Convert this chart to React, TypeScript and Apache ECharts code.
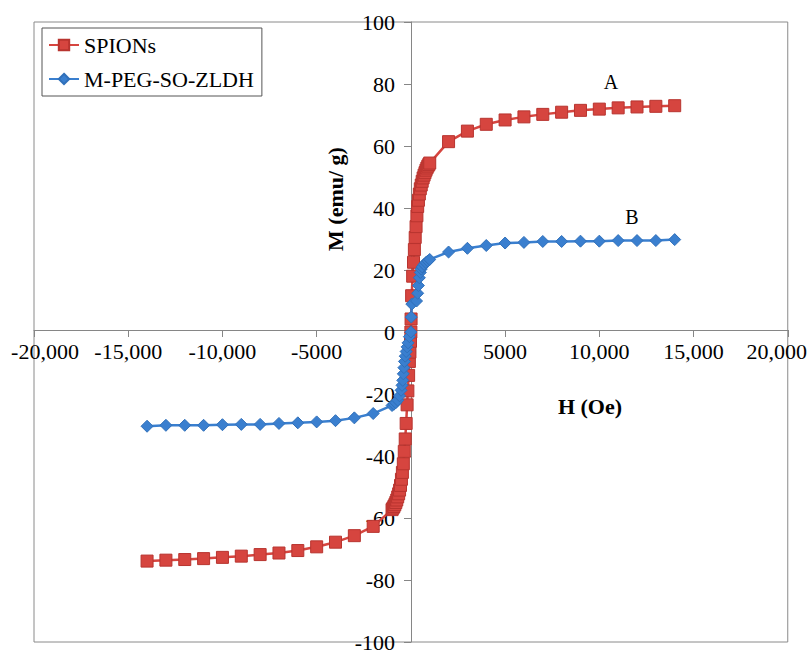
import React, { useEffect, useRef } from "react";
import * as echarts from "echarts";

const xTicks = [-20000, -15000, -10000, -5000, 0, 5000, 10000, 15000, 20000];
const yTicks = [-100, -80, -60, -40, -20, 0, 20, 40, 60, 80, 100];

const spionsH = [
  -14000, -13000, -12000, -11000, -10000, -9000, -8000, -7000, -6000, -5000, -4000, -3000, -2000,
  -1000, -950, -900, -850, -800, -750, -700, -650, -600, -550, -500, -450, -400, -350, -300, -250,
  -200, -160, -120, -80, -50, -20, 0,
  10, 40, 95, 140, 186, 230, 276, 320, 360, 400, 450, 500, 550, 600, 650, 700, 750, 800, 850, 900,
  950, 1000,
  2000, 3000, 4000, 5000, 6000, 7000, 8000, 9000, 10000, 11000, 12000, 13000, 14000,
];
const spionsM = [
  -73.9, -73.6, -73.4, -73.1, -72.7, -72.3, -71.8, -71.3, -70.5, -69.3, -67.8, -65.7, -62.7,
  -57.3, -56.8, -56.3, -55.7, -55.0, -54.2, -53.2, -52.2, -51.0, -49.5, -47.5, -45.3, -42.5, -38.5,
  -34.5, -29.5, -23.5, -19, -14, -9.5, -6.5, -3, 0,
  4.2, 11.7, 18, 22.5, 26.6, 30.5, 34, 37.5, 40.5, 42.5, 44.5, 46.2, 47.4, 48.6, 49.7, 50.6, 51.4,
  52.2, 52.9, 53.5, 54.0, 54.5,
  61.4, 64.8, 67.0, 68.4, 69.4, 70.2, 70.9, 71.5, 71.9, 72.3, 72.6, 72.8, 73.0,
];

const zldhH = [
  -14000, -13000, -12000, -11000, -10000, -9000, -8000, -7000, -6000, -5000, -4000, -3000, -2000,
  -1000, -900, -800, -700, -600, -520, -470, -430, -400, -370, -340, -300, -250, -200, -150, -80, 0,
  20, 50, 300, 360, 400, 450, 500, 550, 600, 700, 800, 900, 1000,
  2000, 3000, 4000, 5000, 6000, 7000, 8000, 9000, 10000, 11000, 12000, 13000, 14000,
];
const zldhM = [
  -30.4, -30.1, -30.1, -30.1, -29.9, -29.8, -29.8, -29.5, -29.3, -29.0, -28.6, -27.7, -26.3,
  -23.7, -23.3, -22.8, -22.0, -20.6, -18.8, -17.2, -15.6, -13.5, -11.5, -9.5, -7.8, -6.3, -4.8,
  -3.5, -1.5, 0,
  4.8, 9, 10, 12.5, 15, 17.5, 19.2, 20.3, 21.0, 21.8, 22.4, 22.9, 23.4,
  25.8, 27.0, 27.9, 28.7, 28.9, 29.2, 29.2, 29.3, 29.3, 29.5, 29.5, 29.5, 29.8,
];

const seriesNames = ["SPIONs", "M-PEG-SO-ZLDH"];
const axisTitles = { x: "H (Oe)", y: "M (emu/ g)" };
const curveLabels = ["A", "B"];

const FONT = "'Liberation Serif', 'Times New Roman', serif";

function fmtX(v: number): string {
  if (v === 0) return "0";
  const a = Math.abs(v);
  const s = a >= 10000 ? a.toLocaleString("en-US") : String(a);
  return (v < 0 ? "-" : "") + s;
}

const W = 810;
const H = 653;
const GRID = { left: 34, right: 22, top: 22, bottom: 7 };

export default function App() {
  const ref = useRef<HTMLDivElement>(null);
  useEffect(() => {
    if (!ref.current) return;
    const chart = echarts.init(ref.current, undefined, { renderer: "svg" });
    const red = "#D6453F";
    const blue = "#3A7FCF";
    const xMin = xTicks[0];
    const xMax = xTicks[xTicks.length - 1];
    const yMin = yTicks[0];
    const yMax = yTicks[yTicks.length - 1];
    const gw = W - GRID.left - GRID.right;
    const gh = H - GRID.top - GRID.bottom;
    const xAxisOffset = -gh * ((0 - yMin) / (yMax - yMin));
    const yAxisOffset = -gw * ((0 - xMin) / (xMax - xMin));
    chart.setOption({
      animation: false,
      backgroundColor: "#fff",
      grid: {
        ...GRID,
        show: true,
        borderColor: "#8a8a8a",
        borderWidth: 1,
      },
      legend: {
        left: 42,
        top: 28,
        orient: "vertical",
        borderColor: "#555",
        borderWidth: 1,
        padding: [6, 8, 6, 6],
        itemGap: 12,
        itemWidth: 30,
        itemHeight: 13,
        textStyle: { fontFamily: FONT, fontSize: 22, color: "#000" },
        data: seriesNames,
      },
      xAxis: {
        type: "value",
        position: "bottom",
        offset: xAxisOffset,
        min: xMin,
        max: xMax,
        interval: 5000,
        splitLine: { show: false },
        axisLine: { onZero: false, lineStyle: { color: "#868686", width: 1 } },
        axisTick: { show: true, length: 7, lineStyle: { color: "#868686" } },
        axisLabel: {
          fontFamily: FONT,
          fontSize: 22,
          color: "#000",
          margin: 10,
          formatter: (v: number) => {
            const s = fmtX(v);
            if (v === xMin) return "{mn|" + s + "}";
            if (v === xMax) return "{mx|" + s + "}";
            return s;
          },
          rich: {
            mn: { fontFamily: FONT, fontSize: 22, color: "#000", padding: [0, 0, 0, 22] },
            mx: { fontFamily: FONT, fontSize: 22, color: "#000", padding: [0, 22, 0, 0] },
          },
        },
      },
      yAxis: {
        type: "value",
        position: "left",
        offset: yAxisOffset,
        min: yMin,
        max: yMax,
        interval: 20,
        splitLine: { show: false },
        axisLine: { onZero: false, lineStyle: { color: "#868686", width: 1 } },
        axisTick: { show: true, length: 7, lineStyle: { color: "#868686" } },
        axisLabel: {
          fontFamily: FONT,
          fontSize: 22,
          color: "#000",
          margin: 16,
        },
      },
      series: [
        {
          name: seriesNames[0],
          type: "line",
          data: spionsH.map((h, i) => [h, spionsM[i]]),
          symbol: "rect",
          symbolSize: 12,
          lineStyle: { color: red, width: 2.5 },
          itemStyle: { color: red, borderColor: "#B8342F", borderWidth: 1 },
          emphasis: { disabled: true },
        },
        {
          name: seriesNames[1],
          type: "line",
          data: zldhH.map((h, i) => [h, zldhM[i]]),
          symbol: "diamond",
          symbolSize: 12,
          lineStyle: { color: blue, width: 2.5 },
          itemStyle: { color: blue, borderColor: "#3070BA", borderWidth: 1 },
          emphasis: { disabled: true },
        },
      ],
      graphic: [
        {
          type: "text",
          x: 335,
          y: 199,
          rotation: Math.PI / 2,
          style: {
            text: axisTitles.y,
            font: "bold 22px " + FONT,
            fill: "#000",
            align: "center",
            verticalAlign: "middle",
          },
        },
        {
          type: "text",
          x: 590,
          y: 406,
          style: {
            text: axisTitles.x,
            font: "bold 22px " + FONT,
            fill: "#000",
            align: "center",
            verticalAlign: "middle",
          },
        },
        {
          type: "text",
          x: 611,
          y: 82,
          style: {
            text: curveLabels[0],
            font: "20px " + FONT,
            fill: "#000",
            align: "center",
            verticalAlign: "middle",
          },
        },
        {
          type: "text",
          x: 632,
          y: 217,
          style: {
            text: curveLabels[1],
            font: "20px " + FONT,
            fill: "#000",
            align: "center",
            verticalAlign: "middle",
          },
        },
      ],
    });
    return () => chart.dispose();
  }, []);
  return (
    <div
      ref={ref}
      style={{ position: "absolute", left: 0, top: 0, width: W, height: H }}
    />
  );
}
